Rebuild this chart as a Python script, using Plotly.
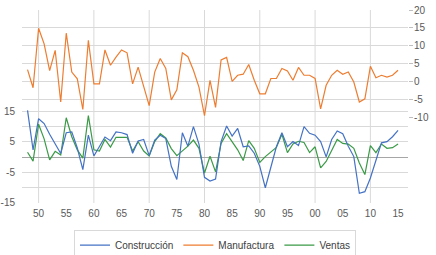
import plotly.graph_objects as go

years = list(range(1948, 2016))

construccion = [15.3, 2.4, 12.6, 11.0, 7.5, 4.3, 1.2, 8.0, 8.3, 3.0,
                -4.1, 7.2, 0.4, 3.5, 6.6, 5.4, 8.3, 8.0, 7.4, 1.3,
                5.3, 5.8, 0.5, 5.6, 7.2, 6.1, -3.0, -7.3, 8.0, 3.6,
                10.0, 4.3, -6.6, -7.8, -7.2, 5.1, 10.2, 6.9, 9.4, 3.4,
                3.7, 1.3, -3.0, -10.0, -3.0, 3.4, 8.0, 3.4, 5.1, 3.8,
                10.0, 7.8, 7.2, 5.1, 0.1, 5.8, 8.6, 7.7, 3.6, 0.2,
                -11.8, -11.3, -6.8, -0.9, 4.7, 5.1, 6.7, 8.8]

manufactura = [3.3, -1.8, 14.9, 10.5, 3.0, 8.7, -5.8, 13.5, 2.6, 0.7,
               -7.9, 11.5, -0.7, -0.7, 8.8, 4.5, 6.8, 8.8, 8.0, -0.7,
               4.0, -1.2, -6.8, 2.6, 6.4, 3.6, -5.2, -2.4, 8.0, 6.9,
               3.1, -1.6, -9.6, 0.3, -7.3, 6.0, 6.7, 0.0, 1.7, 2.0,
               4.7, 0.3, -3.5, -3.5, 0.8, 0.8, 3.6, 2.9, 0.3, 3.9,
               1.7, 1.7, 0.8, -7.7, -1.1, 1.7, 3.1, 2.0, 2.6, -0.2,
               -5.8, -4.9, 4.2, 1.0, 1.7, 1.2, 1.7, 3.1]

ventas = [1.6, -1.3, 10.8, 6.0, -0.9, 1.9, 0.7, 12.9, 6.7, 2.4,
          -0.3, 13.6, 2.4, 2.0, 5.8, 3.3, 6.5, 6.5, 6.5, 2.0,
          5.1, 2.0, 0.4, 5.1, 7.7, 6.3, 2.8, 0.5, 2.0, 3.6,
          5.6, 2.9, -5.2, 0.3, -4.8, 4.5, 7.7, 5.1, 2.4, -1.1,
          5.4, 2.9, -1.7, 0.2, 1.8, 3.2, 7.5, 1.5, 4.3, 5.2,
          4.8, 1.5, 3.4, -3.5, -1.4, 2.4, 5.8, 4.5, 4.3, 2.9,
          -1.9, -5.7, 3.8, 1.5, 4.3, 2.9, 3.1, 4.3]

x_tick_years = list(range(1950, 2016, 5))
x_tick_text = [f"{y % 100:02d}" for y in x_tick_years]
decades = list(range(1950, 2016, 10))

left_ticks = [-15, -10, -5, 0, 5, 10, 15, 20]
left_text = ["-15", "", "-5", "", "5", "", "15", ""]
right_ticks = [-10, -5, 0, 5, 10, 15, 20]
right_text = [str(v) for v in right_ticks]

BLUE = "#4472C4"
ORANGE = "#ED7D31"
GREEN = "#3A9A46"
GRID = "#D9D9D9"
TXT = "#595959"

fig = go.Figure()
fig.add_trace(go.Scatter(x=years, y=ventas, name="Ventas", mode="lines", legendrank=3,
                         line=dict(color=GREEN, width=1.2), yaxis="y"))
fig.add_trace(go.Scatter(x=years, y=construccion, name="Construcción", mode="lines", legendrank=1,
                         line=dict(color=BLUE, width=1.2), yaxis="y"))
fig.add_trace(go.Scatter(x=years, y=manufactura, name="Manufactura", mode="lines", legendrank=2,
                         line=dict(color=ORANGE, width=1.2), yaxis="y2"))

for d in decades:
    fig.add_shape(type="line", xref="x", yref="paper", x0=d, x1=d, y0=0, y1=1,
                  line=dict(color=GRID, width=1), layer="below")

fig.update_layout(
    width=436, height=255,
    margin=dict(l=22, r=28, t=10, b=52, autoexpand=False),
    paper_bgcolor="white", plot_bgcolor="rgba(0,0,0,0)",
    font=dict(family="Liberation Sans, Arial, sans-serif", size=10, color=TXT),
    showlegend=True,
    legend=dict(orientation="h", x=0.5, xanchor="center", y=-0.138, yanchor="top",
                bordercolor=GRID, borderwidth=1, font=dict(size=10, color="#404040"),
                traceorder="normal", itemwidth=30, tracegroupgap=0, bgcolor="white"),
    xaxis=dict(range=[1947, 2016.8], tickvals=x_tick_years, ticktext=x_tick_text,
               showgrid=False, zeroline=False, showline=False, ticks="", automargin=False,
               ticklabelstandoff=3, tickfont=dict(size=10, color=TXT)),
    yaxis=dict(domain=[0, 0.554], range=[-15, 20], tickvals=left_ticks, ticktext=left_text,
               showgrid=True, gridcolor=GRID, gridwidth=1, automargin=False,
               zeroline=True, zerolinecolor="#A6A6A6", zerolinewidth=1,
               showline=False, ticks="", ticklabelstandoff=6,
               tickfont=dict(size=10, color=TXT)),
    yaxis2=dict(domain=[0.4456, 1], range=[-10, 20], tickvals=right_ticks, ticktext=right_text,
                anchor="x", side="right", showgrid=True, gridcolor=GRID, gridwidth=1,
                zeroline=False, showline=False, ticks="outside", ticklen=4, tickcolor="#BFBFBF",
                ticklabelstandoff=-1, automargin=False, tickfont=dict(size=10, color=TXT)),
)

fig.write_html("out.html", config={"displayModeBar": False},
               post_script="document.body.style.margin='0';")
